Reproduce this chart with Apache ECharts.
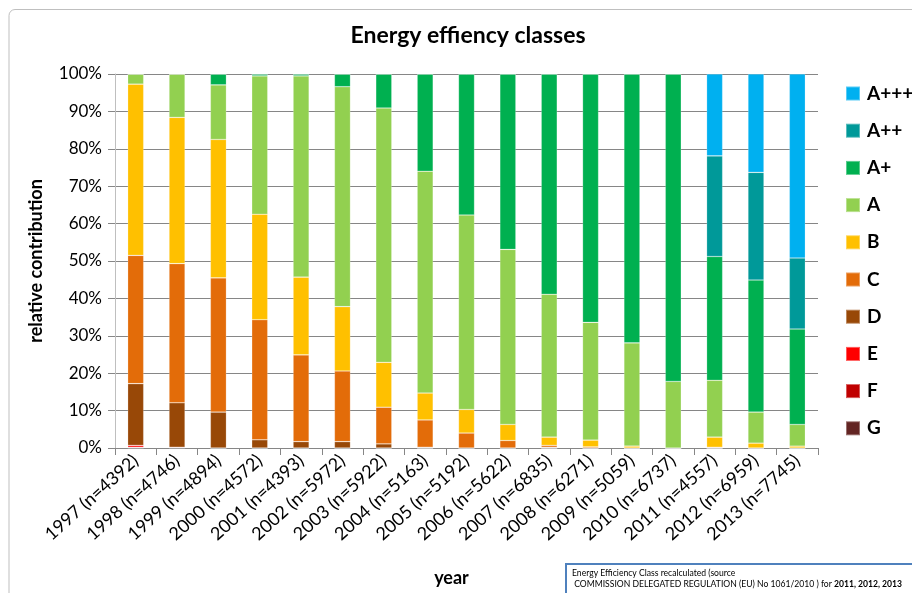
<!DOCTYPE html>
<html>
<head>
<meta charset="utf-8">
<script src="https://cdn.jsdelivr.net/npm/echarts@6/dist/echarts.min.js"></script>
<style>
html,body{margin:0;padding:0;background:#fff;}
#chart{width:912px;height:593px;}
</style>
</head>
<body>
<div id="chart"></div>
<script>
const categories = ["1997 (n=4392)","1998 (n=4746)","1999 (n=4894)","2000 (n=4572)","2001 (n=4393)","2002 (n=5972)","2003 (n=5922)","2004 (n=5163)","2005 (n=5192)","2006 (n=5622)","2007 (n=6835)","2008 (n=6271)","2009 (n=5059)","2010 (n=6737)","2011 (n=4557)","2012 (n=6959)","2013 (n=7745)"];

const classG    = [0,0,0,0,0,0,0,0,0,0,0,0,0,0,0,0,0];
const classF    = [0.2,0.2,0,0,0,0,0,0,0,0,0,0,0,0,0,0,0];
const classE    = [0.5,0,0,0,0,0,0,0,0,0,0,0,0,0,0,0,0];
const classD    = [16.5,11.9,9.6,2.2,1.7,1.7,1.1,0.2,0,0,0.2,0,0,0,0,0,0];
const classC    = [34.3,37.2,35.9,32.1,23.2,18.9,9.8,7.3,4.0,2.0,0.5,0.3,0,0,0.2,0,0];
const classB    = [45.8,39.1,37.0,28.2,20.8,17.2,12.0,7.2,6.3,4.3,2.2,1.8,0.5,0,2.7,1.3,0.5];
const classA    = [2.7,11.6,14.6,37.0,53.8,58.8,68.0,59.3,52.0,46.8,38.2,31.5,27.6,17.8,15.2,8.3,5.8];
const classAp   = [0,0,2.9,0.5,0.5,3.4,9.1,26.0,37.7,46.9,58.9,66.4,71.9,82.2,33.1,35.3,25.5];
const classApp  = [0,0,0,0,0,0,0,0,0,0,0,0,0,0,26.9,28.8,19.0];
const classAppp = [0,0,0,0,0,0,0,0,0,0,0,0,0,0,21.9,26.3,49.2];

const yTicks = [0,10,20,30,40,50,60,70,80,90,100];

const seriesDefs = [
  {name:'G', data:classG, color:'#632523'},
  {name:'F', data:classF, color:'#C00000'},
  {name:'E', data:classE, color:'#FF0000'},
  {name:'D', data:classD, color:'#984807'},
  {name:'C', data:classC, color:'#E36C09'},
  {name:'B', data:classB, color:'#FFC000'},
  {name:'A', data:classA, color:'#92D050'},
  {name:'A+', data:classAp, color:'#00B050'},
  {name:'A++', data:classApp, color:'#009999'},
  {name:'A+++', data:classAppp, color:'#00B0F0'}
];

const FONT = 'Lato, "Open Sans", sans-serif';
const chart = echarts.init(document.getElementById('chart'), null, {renderer:'canvas'});
chart.setOption({
  backgroundColor:'#fff',
  animation:false,
  title:{
    text:'Energy effiency classes',
    left:463, top:19, textAlign:'center',
    textStyle:{fontFamily:FONT, fontSize:23, fontWeight:'bold', color:'#000'}
  },
  legend:{
    orient:'vertical',
    left:840, top:79,
    itemWidth:14, itemHeight:14, itemGap:18.2,
    icon:'rect',
    data:['A+++','A++','A+','A','B','C','D','E','F','G'],
    textStyle:{fontFamily:FONT, fontSize:19, fontWeight:'bold', color:'#000', lineHeight:16, padding:[0,0,0,2]}
  },
  grid:{left:115, right:94, top:74, bottom:145, containLabel:false, outerBoundsMode:'none'},
  xAxis:{
    type:'category',
    data:categories,
    name:'year',
    nameLocation:'middle',
    nameGap:121,
    nameTextStyle:{fontFamily:FONT, fontSize:18, fontWeight:'bold', color:'#000', padding:[0,30,0,0]},
    axisLine:{lineStyle:{color:'#868686', width:1}},
    axisTick:{show:true, length:7, lineStyle:{color:'#868686'}},
    axisLabel:{rotate:42, margin:10, fontFamily:FONT, fontSize:18, color:'#000', interval:0}
  },
  yAxis:{
    type:'value',
    min:yTicks[0], max:yTicks[yTicks.length-1], interval:10,
    name:'relative contribution',
    nameLocation:'middle',
    nameGap:70,
    nameRotate:90,
    nameTextStyle:{fontFamily:FONT, fontSize:18, fontWeight:'bold', color:'#000'},
    axisLine:{show:true, lineStyle:{color:'#BFBFBF'}},
    axisTick:{show:true, length:7, lineStyle:{color:'#868686'}},
    axisLabel:{formatter:'{value}%', margin:13, fontFamily:FONT, fontSize:17, color:'#000'},
    splitLine:{show:true, lineStyle:{color:'#868686', width:1}}
  },
  series: seriesDefs.map(s => ({
    name:s.name,
    type:'bar',
    stack:'total',
    barWidth:16,
    data:s.data,
    itemStyle:{color:s.color, borderColor:'rgba(255,255,255,0.35)', borderWidth:0.6},
    emphasis:{disabled:true}
  })),
  graphic:[
    {type:'rect', silent:true, z:-10,
     shape:{x:9, y:9.5, width:1000, height:700, r:6},
     style:{fill:'none', stroke:'#BFBFBF', lineWidth:1}},
    {type:'rect', silent:true, z:100,
     shape:{x:566, y:564, width:400, height:40},
     style:{fill:'#fff', stroke:'#4F81BD', lineWidth:2}},
    {type:'text', silent:true, z:101, left:572, top:569,
     style:{
       text:'{n|Energy Efficiency Class recalculated (source}\n{n| COMMISSION DELEGATED REGULATION (EU) No 1061/2010 ) for }{b|2011, 2012, 2013}',
       rich:{
         n:{fontFamily:FONT, fontSize:8.6, color:'#000', lineHeight:11},
         b:{fontFamily:FONT, fontSize:8.6, fontWeight:'bold', color:'#000', lineHeight:11}
       }
     }}
  ]
});
</script>
</body>
</html>
